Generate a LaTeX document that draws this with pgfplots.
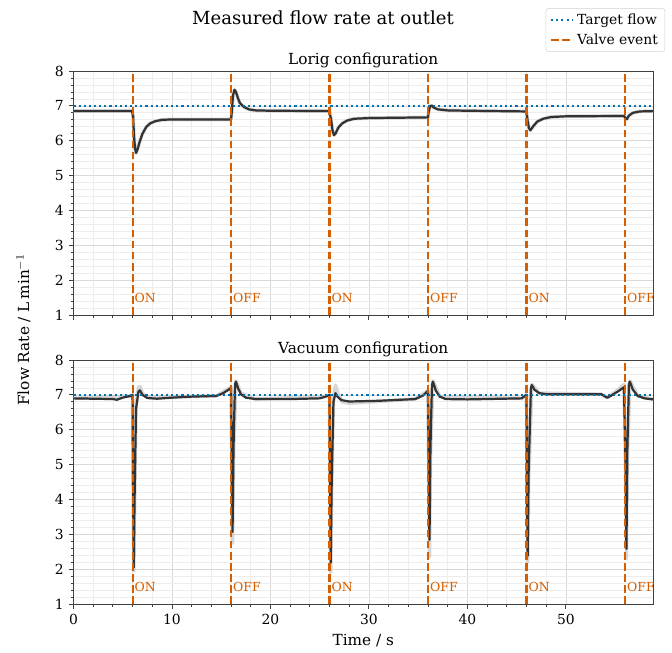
\documentclass[border=0pt]{standalone}
\usepackage{fontspec}
\setmainfont{DejaVu Serif}
\usepackage{pgfplots}
\usepackage{pgfplotstable}
\pgfplotsset{compat=1.18}

\definecolor{targetblue}{RGB}{0,114,178}
\definecolor{valveorange}{RGB}{213,94,0}
\definecolor{flowline}{RGB}{51,51,51}

% Lorig configuration, mean flow
\pgfplotstableread{
t q
0 6.85
5.95 6.85
6.05 6.70
6.15 6.10
6.25 5.78
6.35 5.65
6.5 5.75
6.7 5.95
7.0 6.20
7.4 6.40
7.8 6.50
8.3 6.56
9.0 6.60
10 6.61
16.0 6.61
16.05 6.75
16.2 7.30
16.35 7.46
16.5 7.40
16.7 7.22
16.9 7.08
17.3 6.97
17.8 6.90
18.5 6.87
20 6.86
26.0 6.85
26.05 6.75
26.15 6.62
26.3 6.30
26.45 6.16
26.6 6.20
26.9 6.38
27.3 6.50
27.8 6.58
28.5 6.63
30 6.65
36.0 6.67
36.05 6.80
36.2 6.98
36.35 7.01
36.6 6.95
37.0 6.90
38 6.87
40 6.86
46.0 6.84
46.1 6.60
46.25 6.36
46.4 6.30
46.7 6.42
47.1 6.55
47.7 6.63
48.5 6.68
50 6.70
55.9 6.71
56.05 6.65
56.2 6.62
56.4 6.72
56.8 6.80
57.5 6.84
58.9 6.85
}\lorig

% Vacuum configuration, mean flow
\pgfplotstableread{
t q
0 6.90
2 6.89
4 6.88
4.4 6.86
5 6.92
5.8 6.97
6.0 7.00
6.05 4.50
6.12 2.05
6.2 4.00
6.35 6.60
6.6 7.10
6.75 7.13
7.0 7.00
7.5 6.91
8.5 6.89
10 6.92
12 6.95
14.5 6.97
15.2 7.05
15.7 7.14
16.0 7.20
16.08 5.00
16.15 3.07
16.25 5.50
16.4 7.30
16.5 7.38
16.7 7.20
17.0 7.02
17.5 6.92
18.5 6.88
22 6.88
25 6.90
25.6 6.95
26.0 7.00
26.06 4.50
26.12 2.18
26.22 4.50
26.4 6.80
26.6 7.05
26.8 6.95
27.2 6.85
28 6.81
31 6.83
34.7 6.88
35.5 6.98
36.0 7.12
36.07 5.00
36.15 2.84
36.25 5.50
36.4 7.28
36.5 7.38
36.8 7.12
37.2 6.95
37.8 6.88
40 6.87
45.5 6.90
46.0 7.00
46.06 4.50
46.12 2.38
46.22 4.80
46.45 7.20
46.55 7.28
46.8 7.15
47.3 7.05
48 7.02
53.6 7.02
54.0 6.95
54.2 6.92
54.6 6.98
55.3 7.10
55.9 7.22
56.07 5.00
56.15 2.58
56.25 5.50
56.4 7.30
56.5 7.38
56.8 7.15
57.3 6.97
58 6.90
58.9 6.87
}\vacuum

% Vacuum configuration, spread of the repeats
\pgfplotstableread{
t q
0 6.90
5.8 6.97
6.0 7.00
6.05 4.30
6.12 1.95
6.2 3.80
6.35 6.70
6.6 7.22
6.75 7.24
7.0 7.05
7.5 6.93
14.5 6.97
16.0 7.22
16.08 4.80
16.15 2.75
16.25 5.30
16.5 7.40
17.0 7.05
18.5 6.88
25.6 6.95
26.0 7.00
26.06 4.30
26.12 1.90
26.22 4.30
26.4 6.90
26.6 7.28
26.9 7.00
27.3 6.80
28 6.76
34.7 6.88
36.0 7.12
36.07 4.80
36.15 2.35
36.25 5.30
36.5 7.40
37.2 6.95
45.5 6.90
46.0 7.00
46.06 4.30
46.12 2.20
46.22 4.60
46.55 7.30
47.3 7.05
53.6 7.02
54.2 6.92
55.3 7.14
55.9 7.30
56.07 4.80
56.15 2.30
56.25 5.30
56.5 7.40
57.3 6.97
58.9 6.87
}\vacuumspread

\tikzset{
  target/.style={targetblue, line width=1.5pt, dash pattern=on 1.5pt off 2.2pt},
  valve/.style={valveorange, line width=1.5pt, dash pattern=on 5.5pt off 2.5pt},
  spread/.style={gray!45, line width=2.6pt, opacity=0.7, line join=round},
  mean/.style={flowline, line width=1.6pt, line join=round},
  event/.style={anchor=west, inner sep=1pt, text=valveorange, font=\fontsize{9}{10}\selectfont},
}

\pgfplotsset{
  flowpanel/.style={
    scale only axis,
    width=417.24pt, height=175.68pt,
    xmin=0, xmax=58.85, ymin=1, ymax=8,
    xtick={0,10,...,50}, ytick={1,...,8},
    minor x tick num=4, minor y tick num=4,
    grid=both,
    major grid style={gray!30, line width=0.5pt},
    minor grid style={gray!14, line width=0.5pt},
    tick align=outside, xtick pos=bottom, ytick pos=left,
    major tick length=3.5pt, minor tick length=2pt,
    tick style={black!75, line width=0.6pt},
    axis line style={black!75, line width=0.6pt},
    ticklabel style={font=\fontsize{10}{12}\selectfont},
    /pgf/number format/assume math mode=true,
    title style={font=\fontsize{11}{13}\selectfont, yshift=-7pt},
    label style={font=\fontsize{11}{13}\selectfont},
  },
}

\begin{document}
\begin{tikzpicture}
\begin{axis}[flowpanel, at={(0,208.08pt)}, title={Lorig configuration},
  xticklabels={},
  legend style={at={(1.021,1.078)}, anchor=south east, font=\fontsize{10}{12}\selectfont,
    draw=gray!35, rounded corners=2pt, fill=white, row sep=1pt},
  legend cell align=left,
  legend image code/.code={\draw[#1] (0pt,0pt) -- (16pt,0pt);},
]
\addplot[spread, forget plot] table[x=t, y=q] {\lorig};
\addplot[mean, forget plot] table[x=t, y=q] {\lorig};
\addplot[target] coordinates {(0,7) (58.85,7)};
\addlegendentry{Target flow}
\addplot[valve] coordinates {(6,1) (6,8)};
\addlegendentry{Valve event}
\addplot[valve, forget plot] coordinates {(16,1) (16,8)};
\addplot[valve, forget plot] coordinates {(26,1) (26,8)};
\addplot[valve, forget plot] coordinates {(36,1) (36,8)};
\addplot[valve, forget plot] coordinates {(46,1) (46,8)};
\addplot[valve, forget plot] coordinates {(56,1) (56,8)};
\node[event] at (axis cs:6.05,1.5) {ON};
\node[event] at (axis cs:16.05,1.5) {OFF};
\node[event] at (axis cs:26.05,1.5) {ON};
\node[event] at (axis cs:36.05,1.5) {OFF};
\node[event] at (axis cs:46.05,1.5) {ON};
\node[event] at (axis cs:56.05,1.5) {OFF};
\end{axis}

\begin{axis}[flowpanel, at={(0,0)}, title={Vacuum configuration}, xlabel={Time / s}]
\addplot[spread] table[x=t, y=q] {\vacuumspread};
\addplot[mean] table[x=t, y=q] {\vacuum};
\addplot[target] coordinates {(0,7) (58.85,7)};
\addplot[valve] coordinates {(6,1) (6,8)};
\addplot[valve] coordinates {(16,1) (16,8)};
\addplot[valve] coordinates {(26,1) (26,8)};
\addplot[valve] coordinates {(36,1) (36,8)};
\addplot[valve] coordinates {(46,1) (46,8)};
\addplot[valve] coordinates {(56,1) (56,8)};
\node[event] at (axis cs:6.05,1.5) {ON};
\node[event] at (axis cs:16.05,1.5) {OFF};
\node[event] at (axis cs:26.05,1.5) {ON};
\node[event] at (axis cs:36.05,1.5) {OFF};
\node[event] at (axis cs:46.05,1.5) {ON};
\node[event] at (axis cs:56.05,1.5) {OFF};
\end{axis}

\node[font=\fontsize{13}{15}\selectfont] at (179.64pt,421.92pt) {Measured flow rate at outlet};
\node[rotate=90, font=\fontsize{11}{13}\selectfont] at (-36pt,197.28pt) {Flow Rate / L\,min$^{-1}$};

\pgfresetboundingbox
\path[use as bounding box] (-52.92pt,-34.56pt) rectangle (430.92pt,434.88pt);
\end{tikzpicture}
\end{document}
